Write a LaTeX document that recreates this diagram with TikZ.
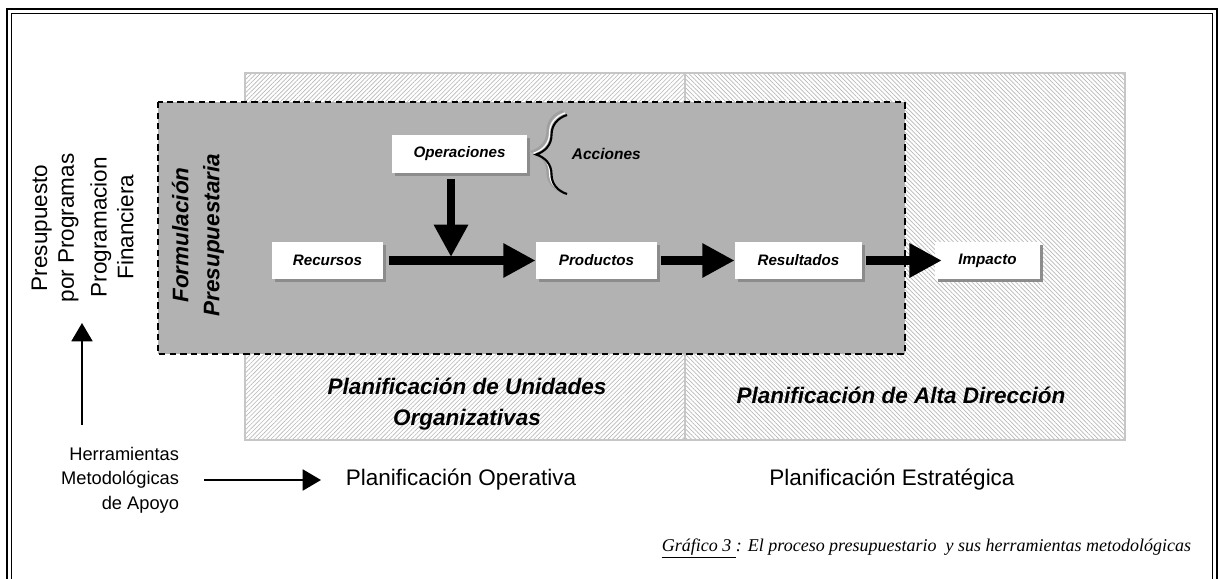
\documentclass[tikz,border=0pt]{standalone}
\usepackage{fontspec}
\setmainfont{Liberation Sans}
\newfontfamily\capfont{Liberation Serif}
\usetikzlibrary{arrows.meta,positioning,shadows,patterns.meta,decorations.pathreplacing}
\tikzset{box/.style = {fill=white, minimum height=0.93cm, inner sep=0pt,
    font=\fontsize{10.8}{12}\selectfont\bfseries\itshape,
    drop shadow={shadow xshift=2.1pt, shadow yshift=-2.1pt, fill=black!45, opacity=1}}}
\tikzset{flow/.style = {line width=5.7pt, -{Triangle[length=23pt,width=23pt]}}}
\tikzset{tool/.style = {line width=1.1pt, -{Triangle[length=13pt,width=15pt]}}}
\tikzset{panel/.style = {draw=gray!45, line width=0.8pt}}
\tikzset{plabel/.style = {font=\fontsize{16}{22}\selectfont\bfseries\itshape, align=center}}
\tikzset{side/.style = {font=\fontsize{16}{19}\selectfont, align=center, rotate=90}}
\tikzset{plain/.style = {font=\fontsize{16}{19}\selectfont}}
\tikzset{curly/.style = {decorate, decoration={brace, amplitude=22pt}}}
\begin{document}
\begin{tikzpicture}[x=0.025cm, y=-0.025cm]
                \useasboundingbox (0,0) rectangle (1219,579);
                \clip (0,0) rectangle (1219,579);
                % frame
                \draw[line width=1.6pt] (7,9) rectangle (1217,650);
                \draw[line width=0.6pt] (11.5,13.5) rectangle (1212.5,650);
                % planning panels
                \fill[white] (245,73) rectangle (1125,440);
                \fill[pattern={Lines[angle=45,distance=2.2pt,line width=0.5pt]}, pattern color=gray!55] (245,73) rectangle (685,440);
                \fill[pattern={Lines[angle=-45,distance=2.2pt,line width=0.5pt]}, pattern color=gray!55] (685,73) rectangle (1125,440);
                \draw[panel] (245,73) rectangle (685,440);
                \draw[panel] (685,73) rectangle (1125,440);
                \node[plabel] (puo) at (467,404) {Planificación de Unidades\\Organizativas};
                \node[plabel] (pad) at (901,395) {Planificación de Alta Dirección};
                % budget formulation
                \draw[fill=gray!60, line width=1.2pt, dash pattern=on 4.5pt off 3pt] (158,102) rectangle (905,354);
                \node[plabel, rotate=90] (form) at (198,235) {Formulación\\Presupuestaria};
                \node[box, minimum width=2.78cm] (rec) at (327.5,260.5) {Recursos};
                \node[box, minimum width=3.38cm] (op) at (459.5,154) {Operaciones};
                \node[box, minimum width=3.03cm] (prod) at (596.5,260.5) {Productos};
                \node[box, minimum width=3.18cm] (res) at (798.5,260.5) {Resultados};
                \node[box, minimum width=2.63cm] (imp) at (987.5,260.5) {Impacto};
                \coordinate (meet) at (451,257);
                \draw[flow, shorten <=0.15cm] (rec.east) -- (prod.west);
                \draw[flow, shorten <=0.15cm] (op.south -| meet) -- (meet);
                \draw[flow, shorten <=0.08cm] (prod.east) -- (res.west);
                \draw[flow, shorten <=0.1cm, shorten >=-0.18cm] (res.east) -- (imp.west);
                % actions brace
                \draw[curly, gray!75, line width=1.6pt] (563,192) -- (563,111);
                \draw[curly, white, line width=0.8pt] (565,193) -- (565,113);
                \draw[curly, line width=1.5pt] (567,194) -- (567,115);
                \node[font=\fontsize{11}{12}\selectfont\bfseries\itshape, right] (acc) at (567,154) {Acciones};
                % tools
                \node[side] (ppp) at (55,228) {Presupuesto\\por Programas};
                \node[side] (pfin) at (112,227) {Programacion\\Financiera};
                \coordinate (upb) at (82,425);
                \coordinate (upt) at (82,323);
                \draw[tool] (upb) -- (upt);
                \node[font=\fontsize{13}{17.5}\selectfont, align=right, anchor=east] (herr) at (184,480) {Herramientas\\Metodológicas\\de Apoyo};
                \node[plain, anchor=west] (pop) at (341,480) {Planificación Operativa};
                \node[plain] (pest) at (892,480) {Planificación Estratégica};
                \draw[tool] ([xshift=0.5cm]herr.east) -- ([xshift=-0.5cm]pop.west);
                \node[font=\capfont\fontsize{12.8}{14}\selectfont\itshape, anchor=east] (cap) at (1196,548)
                    {\underline{Gráfico 3\ }: El proceso presupuestario\ \ y sus herramientas metodológicas};
            \end{tikzpicture}
\end{document}
